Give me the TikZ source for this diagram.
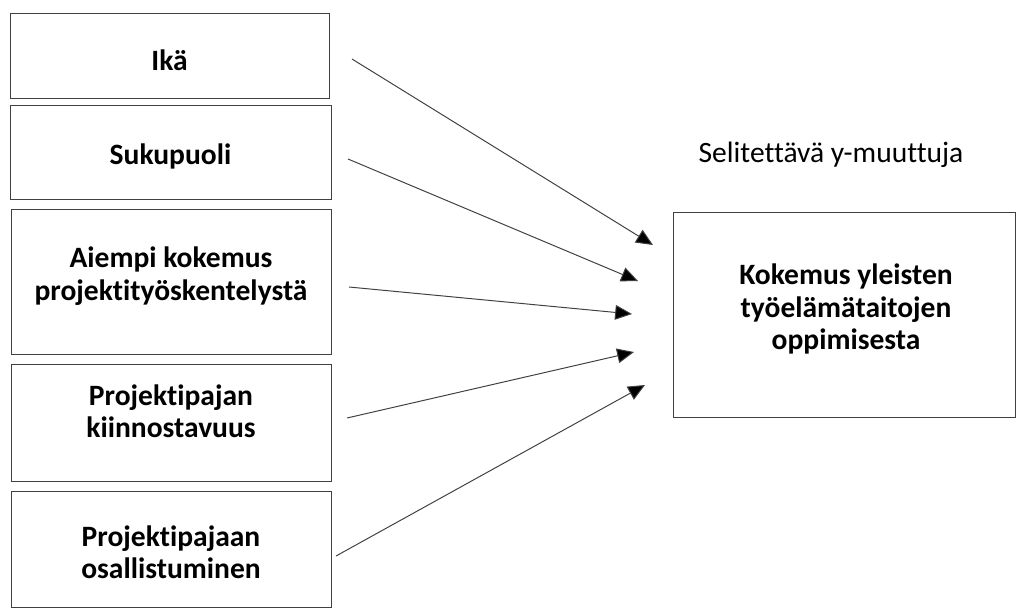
\documentclass[tikz,border=0pt]{standalone}
\usepackage{fontspec}
\setmainfont{Carlito}[Ligatures={NoCommon}]
\usetikzlibrary{arrows.meta}
\tikzset{
	laatikko/.style={draw=black!75, line width=0.7pt},
	otsikko/.style={align=center, font=\bfseries\fontsize{21}{23}\selectfont},
	nuoli/.style={draw=black!75, line width=0.7pt, -{Triangle[length=12pt,width=10.5pt,fill=black]}}
}
\begin{document}
\begin{tikzpicture}[x=0.025cm, y=-0.025cm]
			%%%%% START %%%%%
			\useasboundingbox (0, 0) rectangle (1016, 614);
			
			% selittavat muuttujat
			\draw[laatikko] (10, 13) rectangle (329, 98);
			\node[otsikko] (ika) at (169.5, 60) {Ikä};
			\draw[laatikko] (10, 105) rectangle (331, 199);
			\node[otsikko] (sukupuoli) at (170.5, 156) {Sukupuoli};
			\draw[laatikko] (11, 209) rectangle (331, 354);
			\node[otsikko] (kokemus) at (171, 276) {Aiempi kokemus\\projektityöskentelystä};
			\draw[laatikko] (11, 364) rectangle (331, 481);
			\node[otsikko] (kiinnostus) at (171, 411.5) {Projektipajan\\kiinnostavuus};
			\draw[laatikko] (11, 491) rectangle (331, 607);
			\node[otsikko] (osallistuminen) at (171, 552) {Projektipajaan\\osallistuminen};
			
			% selitettava muuttuja
			\node[font=\fontsize{21}{24}\selectfont] (selite) at (831, 155) {Selitettävä y-muuttuja};
			\draw[laatikko] (673, 212) rectangle (1015, 417);
			\node[otsikko] (tulos) at (846, 309) {Kokemus yleisten\\työelämätaitojen\\oppimisesta};
			
			% nuolet
			\coordinate (alku1) at (352, 59);   \coordinate (kohde1) at (653, 245);
			\coordinate (alku2) at (348, 159);  \coordinate (kohde2) at (638, 281);
			\coordinate (alku3) at (349, 287);  \coordinate (kohde3) at (632, 314);
			\coordinate (alku4) at (347, 418);  \coordinate (kohde4) at (634, 352);
			\coordinate (alku5) at (336, 556);  \coordinate (kohde5) at (645, 385);
			\draw[nuoli] (alku1) -- (kohde1);
			\draw[nuoli] (alku2) -- (kohde2);
			\draw[nuoli] (alku3) -- (kohde3);
			\draw[nuoli] (alku4) -- (kohde4);
			\draw[nuoli] (alku5) -- (kohde5);
			%%%%% END %%%%%
\end{tikzpicture}
\end{document}
